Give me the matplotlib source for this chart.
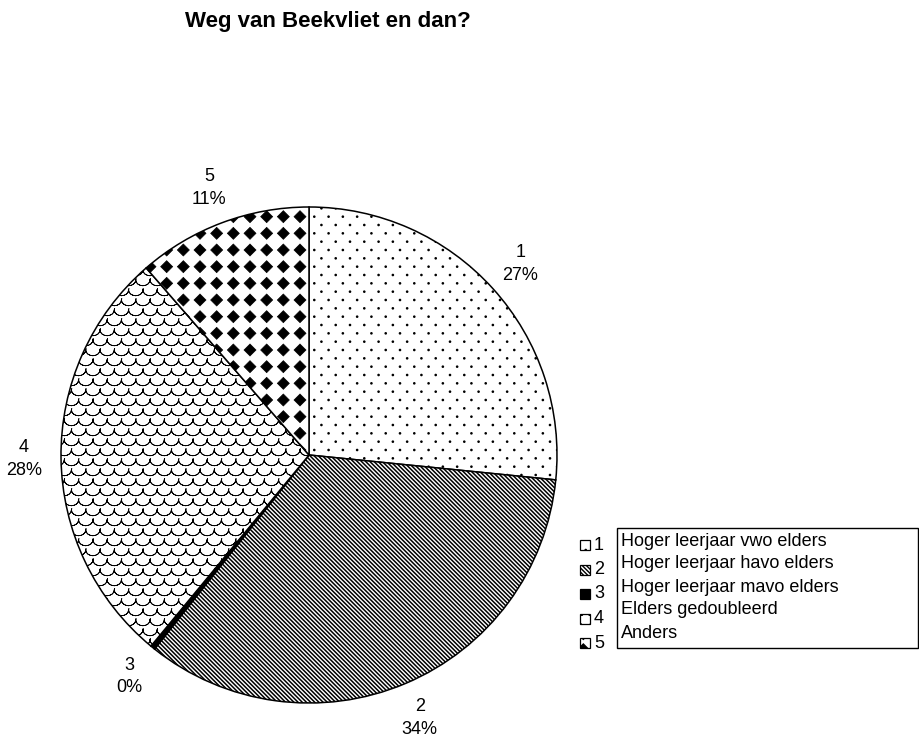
import warnings
warnings.filterwarnings('ignore')
import numpy as np
import matplotlib
matplotlib.use('Agg')
import matplotlib.pyplot as plt
from matplotlib import hatch as mhatch
from matplotlib.path import Path
from matplotlib.patches import Rectangle

plt.rcParams['font.family'] = ['Liberation Sans', 'DejaVu Sans']
plt.rcParams['hatch.color'] = 'black'
plt.rcParams['hatch.linewidth'] = 1.0

title = 'Weg van Beekvliet en dan?'
codes = ['1', '2', '3', '4', '5']
shares = [26.6, 34.1, 0.3, 27.6, 11.4]
names = ['Hoger leerjaar vwo elders', 'Hoger leerjaar havo elders',
         'Hoger leerjaar mavo elders', 'Elders gedoubleerd', 'Anders']

# texture per slice: hatch string, face colour, hatch line width
hatches = ['p', '\\' * 8, '', 's', 'd']
faces = ['white', 'white', 'black', 'white', 'white']
hatch_lw = [1.0, 1.1, 1.0, 0.6, 0.5]


# --- extra hatch textures (dots, scales, diamonds) ---
def _circle(cx, cy, r):
    c = Path.unit_circle()
    return c.vertices * r + [cx, cy], c.codes

def _diamond(cx, cy, r):
    v = np.array([[0, -r], [r, 0], [0, r], [-r, 0], [0, -r]]) + [cx, cy]
    return v, np.array([Path.MOVETO] + [Path.LINETO] * 3 + [Path.CLOSEPOLY])

def _arc(cx, cy, r):
    t = np.linspace(np.pi, 2 * np.pi, 9)
    v = np.column_stack([cx + r * np.cos(t), cy + 0.8 * r * np.sin(t)])
    v = np.concatenate([v, v[::-1]])
    c = np.full(len(v), Path.LINETO)
    c[0] = Path.MOVETO
    return v, c

def _stagger(nc, nr):
    for r in range(nr + 1):
        shift = 0.5 if r % 2 else 0.0
        for c in range(-1, nc + 1):
            yield (c + shift) / nc, r / nr

def _grid(n):
    for r in range(n + 1):
        for c in range(n + 1):
            yield c / n, r / n

TEXTURES = {
    'p': lambda: [_circle(x, y, 0.006) for x, y in _stagger(7, 12)],
    'd': lambda: [_diamond(x, y, 0.06) for x, y in _grid(6)],
    's': lambda: [_arc(x, y, 0.5 / 7) for x, y in _stagger(7, 10)],
}

class Texture(mhatch.HatchPatternBase):
    def __init__(self, hatch, density):
        self.parts = [p for ch, make in TEXTURES.items() if ch in hatch for p in make()]
        self.num_vertices = sum(len(v) for v, _ in self.parts)

    def set_vertices_and_codes(self, vertices, codes):
        if self.parts:
            vertices[:] = np.concatenate([v for v, _ in self.parts])
            codes[:] = np.concatenate([c for _, c in self.parts])

mhatch._hatch_types.append(Texture)


W, H = 920, 738
def fx(px):
    return px / W
def fy(py):
    return 1 - py / H

fig = plt.figure(figsize=(9.2, 7.38), dpi=100)

cx, cy, R = 309, 455, 248
ax = fig.add_axes([fx(cx - R), fy(cy + R), 2 * R / W, 2 * R / H])
labels = ['%s\n%.0f%%' % (c, v) for c, v in zip(codes, shares)]
wedges, texts = ax.pie(shares, labels=labels, startangle=90, counterclock=False,
                       labeldistance=1.15, colors=faces,
                       wedgeprops=dict(edgecolor='black', linewidth=1.1),
                       textprops=dict(fontsize=13))
for w, h, lw in zip(wedges, hatches, hatch_lw):
    w.set_hatch(h)
    if hasattr(w, 'set_hatch_linewidth'):
        w.set_hatch_linewidth(lw)
for t in texts:
    t.set_ha('center')
    t.set_va('center')
    t.set_multialignment('center')
    t.set_linespacing(1.45)
ax.set_xlim(-1, 1)
ax.set_ylim(-1, 1)

fig.text(fx(328), fy(21), title, fontsize=16, fontweight='bold',
         ha='center', va='center')

# legend: hatched keys on the left, names in a framed box
fig.add_artist(Rectangle((fx(617), fy(648)), fx(918) - fx(617), fy(528) - fy(648),
                         transform=fig.transFigure, fill=False,
                         edgecolor='black', linewidth=1.0))
for i, (c, name) in enumerate(zip(codes, names)):
    fig.text(fx(621), fy(541 + i * 23), name, fontsize=13, ha='left', va='center')
    my = 545 + i * 24.5
    key = Rectangle((fx(580), fy(my + 5)), 10 / W, 10 / H, transform=fig.transFigure,
                    facecolor=faces[i], hatch=hatches[i], edgecolor='black', linewidth=0.9)
    fig.add_artist(key)
    fig.text(fx(594), fy(my), c, fontsize=13, ha='left', va='center')

fig.savefig('out.png', dpi=100)
